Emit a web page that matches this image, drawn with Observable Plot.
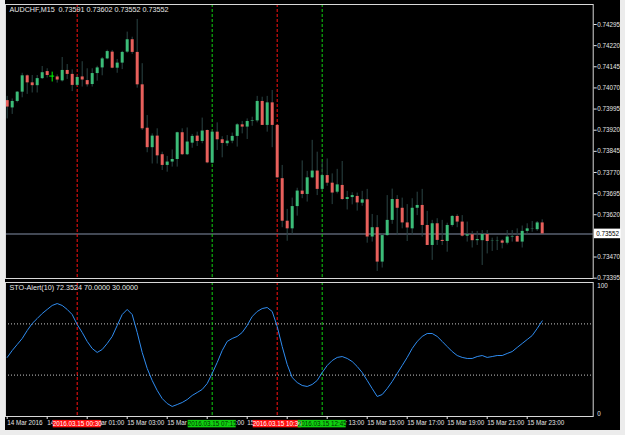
<!DOCTYPE html>
<html><head><meta charset="utf-8">
<script src="https://cdn.jsdelivr.net/npm/d3@7"></script>
<script src="https://cdn.jsdelivr.net/npm/@observablehq/plot@0.6"></script>
<style>
html,body{margin:0;padding:0;background:#ececec;}
#wrap{position:relative;width:625px;height:435px;overflow:hidden;background:#ececec;}
#bg{position:absolute;left:5px;top:0;width:615px;height:430px;background:#000;}
#main{position:absolute;left:0;top:0;}
#ind{position:absolute;left:0;top:280px;}
svg{font-family:"Liberation Sans",Arial,sans-serif;}
</style></head><body>
<div id="wrap"><div id="bg"></div><div id="main"></div><div id="ind"></div></div>
<script>
const symbol = "AUDCHF", timeframe = "M15";
const open = [
0.74025,0.73999,0.74022,0.74055,0.74113,0.74088,0.74078,0.74103,0.74128,0.74112,
0.74109,0.74095,0.74132,0.74118,0.74079,0.74109,0.74096,0.74082,0.74121,0.74141,
0.74173,0.74197,0.74140,0.74158,0.74197,0.74241,0.74196,0.74081,0.73927,0.73858,
0.73899,0.73833,0.73795,0.73807,0.73816,0.73911,0.73833,0.73874,0.73899,0.73880,
0.73919,0.73803,0.73913,0.73886,0.73872,0.73881,0.73898,0.73939,0.73931,0.73952,
0.73953,0.74022,0.73937,0.74017,0.73937,0.73748,0.73597,0.73570,0.73649,0.73704,
0.73692,0.73751,0.73775,0.73710,0.73759,0.73732,0.73700,0.73724,0.73674,0.73681,
0.73685,0.73661,0.73673,0.73541,0.73574,0.73452,0.73546,0.73600,0.73674,0.73643,
0.73591,0.73570,0.73643,0.73653,0.73582,0.73511,0.73588,0.73529,0.73525,0.73582,
0.73614,0.73594,0.73544,0.73549,0.73528,0.73528,0.73550,0.73525,0.73526,0.73527,
0.73519,0.73541,0.73543,0.73523,0.73561,0.73569,0.73567,0.73591];
const high = [
0.74040,0.74031,0.74057,0.74122,0.74116,0.74114,0.74114,0.74146,0.74138,0.74126,
0.74116,0.74178,0.74153,0.74134,0.74114,0.74163,0.74138,0.74138,0.74147,0.74178,
0.74204,0.74203,0.74171,0.74200,0.74268,0.74250,0.74313,0.74156,0.73972,0.73907,
0.73925,0.73842,0.73827,0.73850,0.73913,0.73925,0.73928,0.73905,0.73913,0.73963,
0.73921,0.73919,0.73946,0.73897,0.73901,0.73910,0.73943,0.73951,0.73960,0.73966,
0.74040,0.74037,0.74040,0.74061,0.73937,0.73795,0.73639,0.73679,0.73714,0.73811,
0.73774,0.73884,0.73842,0.73807,0.73818,0.73765,0.73781,0.73809,0.73703,0.73698,
0.73697,0.73703,0.73710,0.73621,0.73617,0.73552,0.73688,0.73711,0.73688,0.73679,
0.73656,0.73677,0.73700,0.73710,0.73632,0.73600,0.73606,0.73600,0.73590,0.73617,
0.73620,0.73617,0.73594,0.73561,0.73561,0.73564,0.73564,0.73537,0.73541,0.73532,
0.73564,0.73564,0.73570,0.73580,0.73588,0.73596,0.73596,0.73602];
const low = [
0.73960,0.73976,0.74017,0.74035,0.74047,0.74052,0.74052,0.74100,0.74105,0.74091,
0.74087,0.74091,0.74100,0.74057,0.74075,0.74073,0.74073,0.74073,0.74094,0.74113,
0.74170,0.74138,0.74122,0.74135,0.74193,0.74189,0.74069,0.73919,0.73840,0.73800,
0.73800,0.73777,0.73771,0.73789,0.73789,0.73830,0.73830,0.73856,0.73862,0.73872,
0.73801,0.73801,0.73848,0.73822,0.73862,0.73872,0.73860,0.73907,0.73887,0.73934,
0.73946,0.73937,0.73913,0.73858,0.73748,0.73574,0.73526,0.73549,0.73615,0.73677,
0.73665,0.73748,0.73688,0.73706,0.73721,0.73656,0.73694,0.73671,0.73637,0.73655,
0.73633,0.73650,0.73519,0.73523,0.73419,0.73431,0.73544,0.73586,0.73546,0.73570,
0.73525,0.73546,0.73617,0.73541,0.73511,0.73458,0.73511,0.73511,0.73487,0.73576,
0.73574,0.73541,0.73523,0.73502,0.73511,0.73440,0.73481,0.73490,0.73493,0.73499,
0.73513,0.73523,0.73523,0.73502,0.73552,0.73558,0.73561,0.73552];
const close = [
0.74002,0.74022,0.74055,0.74113,0.74088,0.74078,0.74103,0.74124,0.74114,0.74112,
0.74098,0.74132,0.74118,0.74079,0.74107,0.74098,0.74081,0.74121,0.74141,0.74173,
0.74199,0.74140,0.74158,0.74196,0.74241,0.74196,0.74081,0.73925,0.73858,0.73899,
0.73829,0.73795,0.73807,0.73816,0.73911,0.73833,0.73878,0.73898,0.73880,0.73917,
0.73804,0.73913,0.73886,0.73873,0.73881,0.73898,0.73939,0.73931,0.73951,0.73954,
0.74022,0.73937,0.74017,0.73937,0.73751,0.73597,0.73570,0.73649,0.73704,0.73692,
0.73751,0.73775,0.73710,0.73759,0.73732,0.73697,0.73726,0.73674,0.73681,0.73688,
0.73662,0.73673,0.73541,0.73574,0.73452,0.73546,0.73600,0.73674,0.73643,0.73591,
0.73573,0.73643,0.73653,0.73582,0.73511,0.73588,0.73529,0.73525,0.73582,0.73614,
0.73594,0.73544,0.73549,0.73528,0.73532,0.73550,0.73525,0.73526,0.73527,0.73519,
0.73541,0.73543,0.73523,0.73561,0.73570,0.73570,0.73591,0.73552];
const stoch = [
43.8,49.2,53.9,58.6,64.8,70.3,74.2,78.1,81.3,84.4,
85.9,84.4,81.3,77.3,69.5,63.3,56.3,50.8,47.7,50.0,
54.7,60.2,68.8,77.3,81.3,77.3,63.3,47.7,35.2,25.8,
18.0,11.7,7.8,5.5,7.0,8.6,10.9,14.1,16.4,18.8,
23.4,31.3,39.8,49.2,56.3,58.6,60.2,63.3,68.8,75.8,
79.7,82.0,82.8,79.7,68.0,52.3,38.3,28.1,24.2,21.9,
21.1,22.7,25.8,32.0,37.5,41.4,43.8,44.5,43.0,40.6,
36.7,32.0,25.8,19.5,13.3,14.8,19.5,25.0,31.3,37.5,
43.8,50.8,56.3,60.2,62.5,62.5,60.2,56.3,52.3,48.4,
45.3,43.8,43.0,43.0,44.5,45.3,43.8,44.5,45.3,45.3,
46.9,48.4,51.6,54.7,57.8,60.9,66.4,72.3524];
const stoPeriod = 10;
const stoLevels = [70, 30];
const priceTicks = [0.74295,0.74220,0.74145,0.74070,0.73995,0.73920,0.73845,0.73770,0.73695,0.73620,0.73470,0.73395];
const timeTickLabels = ["14 Mar 2016","14 Mar 23:00","15 Mar 01:00","15 Mar 03:00","15 Mar 05:00","15 Mar 07:00","15 Mar 09:00","15 Mar 11:00","15 Mar 13:00","15 Mar 15:00","15 Mar 17:00","15 Mar 19:00","15 Mar 21:00","15 Mar 23:00"];
const timeTickValues = ["2016.03.14 21:00","2016.03.14 23:00","2016.03.15 01:00","2016.03.15 03:00","2016.03.15 05:00","2016.03.15 07:00","2016.03.15 09:00","2016.03.15 11:00","2016.03.15 13:00","2016.03.15 15:00","2016.03.15 17:00","2016.03.15 19:00","2016.03.15 21:00","2016.03.15 23:00"];
const alertTimes = ["2016.03.15 00:30","2016.03.15 07:15","2016.03.15 10:30","2016.03.15 12:45"];
const alertKinds = ["down","up","down","up"];

const parse = d3.utcParse("%Y.%m.%d %H:%M");
const firstBar = parse("2016.03.14 21:00");
const barMs = 15 * 60 * 1000;
const bars = open.map((o, i) => ({t: new Date(+firstBar + i * barMs), o, h: high[i], l: low[i], c: close[i], k: stoch[i]}));
const xDomain = [new Date(+firstBar - 0.34 * barMs), new Date(+firstBar + 117.2 * barMs)];
const tickMap = new Map(timeTickValues.map((s, i) => [+parse(s), timeTickLabels[i]]));
const tickDates = timeTickValues.map(parse);
const alertColor = {down: "#ff1010", up: "#10d010"};
const alerts = alertTimes.map((s, i) => ({t: parse(s), label: s, color: alertColor[alertKinds[i]], kind: alertKinds[i]}));
const last = bars[bars.length - 1];
const bull = "#3cbc78", bear = "#e8605c", wick = "#2a4444";
const font = '"Liberation Sans",Arial,sans-serif';
const fmt5 = d3.format(".5f"), fmt4 = d3.format(".4f");

const main = Plot.plot({
  width: 625, height: 280,
  marginLeft: 5, marginRight: 32.3, marginTop: 4, marginBottom: 2,
  style: {background: "transparent", color: "#e4e4e4", fontFamily: font, fontSize: "6.3px"},
  x: {type: "utc", domain: xDomain, axis: null},
  y: {domain: [0.733938, 0.74366], axis: null},
  color: {type: "identity"},
  marks: [
    Plot.ruleY([last.c], {stroke: "#596170", strokeWidth: 1.5}),
    Plot.ruleX(alerts, {x: "t", stroke: "color", strokeDasharray: "3,2"}),
    Plot.ruleX(bars, {x: "t", y1: "l", y2: "h", stroke: d => d.o === d.c ? "#00ff00" : wick}),
    Plot.ruleX(bars.filter(d => d.o !== d.c), {x: "t", y1: "o", y2: "c", stroke: d => d.c > d.o ? bull : bear, strokeWidth: 3}),
    Plot.ruleY(bars.filter(d => d.o === d.c), {y: "c", x1: d => new Date(+d.t - 0.5 * barMs), x2: d => new Date(+d.t + 0.5 * barMs), stroke: "#00ff00"}),
    Plot.frame({stroke: "#d8d8d8"}),
    Plot.axisY({anchor: "right", label: null, ticks: priceTicks, tickSize: 3, tickPadding: 1, tickFormat: fmt5}),
    Plot.rect([last], {x1: d => new Date(+xDomain[1] + 0.25 * barMs), x2: d => new Date(+xDomain[1] + 5.6 * barMs), y1: d => d.c - 0.00017, y2: d => d.c + 0.00017, fill: "#ffffff"}),
    Plot.text([last], {x: d => new Date(+xDomain[1] + 0.6 * barMs), y: "c", text: d => fmt5(d.c), fill: "#000", textAnchor: "start"}),
    Plot.text([`${symbol},${timeframe}  ${fmt5(last.o)} ${fmt5(last.h)} ${fmt5(last.l)} ${fmt5(last.c)}`], {frameAnchor: "top-left", dx: 4, dy: 2.5, lineAnchor: "top", textAnchor: "start", fill: "#e8e8e8", fontSize: 7.2})
  ]
});
document.getElementById("main").append(main);

const ind = Plot.plot({
  width: 625, height: 155,
  marginLeft: 5, marginRight: 32.3, marginTop: 2, marginBottom: 19,
  style: {background: "transparent", color: "#e4e4e4", fontFamily: font, fontSize: "6.3px"},
  x: {type: "utc", domain: xDomain, axis: null},
  y: {domain: [-2.34, 102.34], axis: null},
  color: {type: "identity"},
  marks: [
    Plot.ruleY(stoLevels, {stroke: "#c8c8c8", strokeDasharray: "1,2"}),
    Plot.ruleX(alerts, {x: "t", stroke: "color", strokeDasharray: "3,2"}),
    Plot.line(bars, {x: "t", y: "k", stroke: "#2f8cf0", strokeWidth: 1}),
    Plot.frame({stroke: "#d8d8d8"}),
    Plot.axisY({anchor: "right", label: null, ticks: [0, 100], tickSize: 0, tickPadding: 4, tickFormat: d => String(d)}),
    Plot.axisX({anchor: "bottom", label: null, ticks: tickDates, tickFormat: d => tickMap.get(+d), textAnchor: "start", tickSize: 3, tickPadding: 1}),
    Plot.rect(alerts, {x1: d => new Date(+d.t - 4.8 * barMs), x2: d => new Date(+d.t + 4.8 * barMs), y1: -5.4, y2: -11.2, fill: "color"}),
    Plot.text(alerts, {x: "t", y: -8.3, text: "label", fill: d => d.kind === "up" ? "#003300" : "#ffffff"}),
    Plot.text([`STO-Alert(${stoPeriod}) ${fmt4(last.k)} ${fmt4(stoLevels[0])} ${fmt4(stoLevels[1])}`], {frameAnchor: "top-left", dx: 4, dy: 2.5, lineAnchor: "top", textAnchor: "start", fill: "#e8e8e8", fontSize: 7.2})
  ]
});
document.getElementById("ind").append(ind);
</script></body></html>
